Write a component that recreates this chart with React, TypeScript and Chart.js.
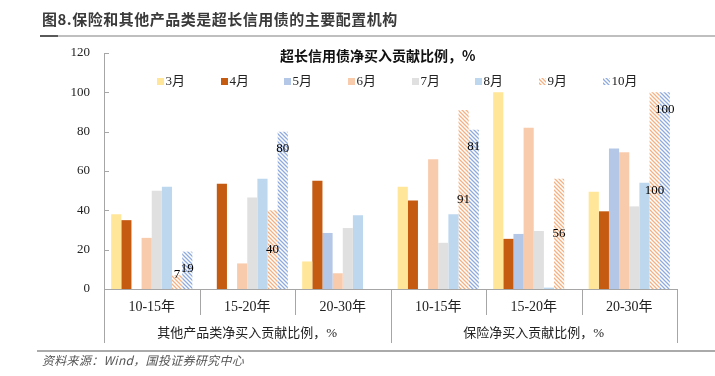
import React, { useEffect, useRef } from 'react';
import { Chart, registerables } from 'chart.js';

Chart.register(...registerables);

// ---- data ----
const categories = ['10-15年', '15-20年', '20-30年', '10-15年', '15-20年', '20-30年'];
const groupLabels = ['其他产品类净买入贡献比例，%', '保险净买入贡献比例，%'];
const groupSize = 3;
const months = ['3月', '4月', '5月', '6月', '7月', '8月', '9月', '10月'];
const m3 = [38, 0, 14, 52, 100, 49.5];
const m4 = [35, 53.5, 55, 45, 25.5, 39.5];
const m5 = [0, 0, 28.5, 0, 28, 71.5];
const m6 = [26, 13, 8, 66, 82, 69.5];
const m7 = [50, 46.5, 31, 23.5, 29.5, 42];
const m8 = [52, 56, 37.5, 38, 0.7, 54];
const m9 = [7, 40, 0, 91, 56, 100];
const m10 = [19, 80, 0, 81, 0, 100];
const seriesValues = [m3, m4, m5, m6, m7, m8, m9, m10];
const yMin = 0;
const yMax = 120;
const yStep = 20;

// ---- styles ----
const solidColors = ['#FFE699', '#C55A11', '#B4C7E7', '#F8CBAD', '#E0E0E0', '#BDD7EE'];
const hatchColors = ['#F4B183', '#8FAADC'];
const axisColor = '#A6A6A6';
const textColor = '#222222';
const numFont = "'Liberation Serif', 'Noto Sans CJK SC', serif";
const cjkFont = "'Liberation Serif', 'Noto Sans CJK SC', sans-serif";

function makeHatch(color: string): CanvasPattern | string {
  const c = document.createElement('canvas');
  c.width = 4;
  c.height = 4;
  const g = c.getContext('2d');
  if (!g) return color;
  g.fillStyle = '#ffffff';
  g.fillRect(0, 0, 4, 4);
  g.strokeStyle = color;
  g.lineWidth = 1.3;
  g.beginPath();
  g.moveTo(-1, -1);
  g.lineTo(5, 5);
  g.moveTo(3, -1);
  g.lineTo(5, 1);
  g.moveTo(-1, 3);
  g.lineTo(1, 5);
  g.stroke();
  return g.createPattern(c, 'repeat') || color;
}

const decorPlugin = {
  id: 'decor',
  afterDraw(chart: any) {
    const { ctx, chartArea, scales } = chart;
    const x = scales.x;
    const y = scales.y;
    ctx.save();
    ctx.strokeStyle = axisColor;
    ctx.lineWidth = 1;
    // inside tick marks on y axis
    ctx.beginPath();
    for (let v = yMin + yStep; v <= yMax; v += yStep) {
      const py = Math.round(y.getPixelForValue(v)) + 0.5;
      ctx.moveTo(chartArea.left, py);
      ctx.lineTo(chartArea.left + 5, py);
    }
    ctx.stroke();
    // category dividers
    const n = categories.length;
    const half = (x.getPixelForValue(1) - x.getPixelForValue(0)) / 2;
    ctx.beginPath();
    for (let i = 0; i <= n; i++) {
      const raw = i < n ? x.getPixelForValue(i) - half : x.getPixelForValue(n - 1) + half;
      const px = Math.round(raw) + 0.5;
      const long = i % groupSize === 0;
      ctx.moveTo(px, chartArea.bottom);
      ctx.lineTo(px, chartArea.bottom + (long ? 54 : 26));
    }
    ctx.stroke();
    // category labels
    ctx.fillStyle = textColor;
    ctx.textAlign = 'center';
    ctx.textBaseline = 'middle';
    ctx.font = `14px ${numFont}`;
    categories.forEach((c, i) => {
      ctx.fillText(c, x.getPixelForValue(i), chartArea.bottom + 18);
    });
    ctx.font = `13px ${cjkFont}`;
    groupLabels.forEach((g, gi) => {
      const a = x.getPixelForValue(gi * groupSize);
      const b = x.getPixelForValue(gi * groupSize + groupSize - 1);
      ctx.fillText(g, (a + b) / 2, chartArea.bottom + 44.5);
    });
    // legend
    const pitch = (chartArea.right - chartArea.left) / 9;
    const startX = chartArea.left + pitch * 0.83;
    const boxTop = 78;
    ctx.font = `13px ${numFont}`;
    ctx.textAlign = 'left';
    chart.data.datasets.forEach((ds: any, i: number) => {
      const bx = Math.round(startX + i * pitch);
      ctx.fillStyle = ds.backgroundColor;
      ctx.fillRect(bx, boxTop, 7, 7);
      ctx.fillStyle = textColor;
      ctx.fillText(ds.label, bx + 8.5, boxTop + 3.5);
    });
    ctx.restore();
  },
  afterDatasetsDraw(chart: any) {
    const { ctx } = chart;
    ctx.save();
    ctx.fillStyle = '#000';
    ctx.font = `13px ${numFont}`;
    ctx.textAlign = 'center';
    ctx.textBaseline = 'middle';
    [6, 7].forEach((di) => {
      const meta = chart.getDatasetMeta(di);
      const vals = chart.data.datasets[di].data;
      meta.data.forEach((el: any, i: number) => {
        const v = vals[i];
        if (!v) return;
        let ty;
        if (di === 6) ty = Math.min((el.y + el.base) / 2, el.base - 14);
        else ty = el.y + 17;
        ctx.fillText(String(v), el.x, ty);
      });
    });
    ctx.restore();
  },
};

export default function App() {
  const ref = useRef<HTMLCanvasElement | null>(null);
  useEffect(() => {
    if (!ref.current) return;
    const colors: any[] = [...solidColors, makeHatch(hatchColors[0]), makeHatch(hatchColors[1])];
    const chart = new Chart(ref.current, {
      type: 'bar',
      data: {
        labels: categories,
        datasets: months.map((m, i) => ({
          label: m,
          data: seriesValues[i],
          backgroundColor: colors[i],
          borderWidth: 0,
          barPercentage: 1,
          categoryPercentage: 0.85,
        })),
      },
      options: {
        responsive: false,
        animation: false,
        devicePixelRatio: 1,
        layout: { padding: { left: 54, top: 53, right: 38, bottom: 27 } },
        plugins: {
          legend: { display: false },
          title: { display: false },
          tooltip: { enabled: false },
        },
        scales: {
          x: {
            type: 'category',
            offset: true,
            grid: { display: false, drawTicks: false },
            ticks: { display: false },
            border: { display: true, color: axisColor, width: 1 },
            afterFit: (s: any) => {
              s.height = 60;
            },
          },
          y: {
            min: yMin,
            max: yMax,
            grid: { display: false, drawTicks: false },
            border: { display: true, color: axisColor, width: 1 },
            ticks: {
              stepSize: yStep,
              padding: 14,
              color: textColor,
              font: { family: numFont, size: 13 },
            },
            afterFit: (s: any) => {
              s.width = 50;
            },
          },
        },
      } as any,
      plugins: [decorPlugin],
    });
    return () => chart.destroy();
  }, []);

  return (
    <div
      style={{
        position: 'fixed',
        left: 0,
        top: 0,
        width: 715,
        height: 376,
        background: '#ffffff',
        overflow: 'hidden',
      }}
    >
      <canvas ref={ref} width={715} height={376} style={{ position: 'absolute', left: 0, top: 0, display: 'block' }} />
      <div
        style={{
          position: 'absolute',
          left: 42,
          top: 10,
          fontFamily: "'Noto Sans CJK SC', sans-serif",
          fontSize: 15,
          lineHeight: '18px',
          letterSpacing: '0.5px',
          fontWeight: 'bold',
          color: '#3a3a3a',
          whiteSpace: 'nowrap',
        }}
      >
        图8.保险和其他产品类是超长信用债的主要配置机构
      </div>
      <div style={{ position: 'absolute', left: 40, right: 0, top: 35, height: 2, background: '#BFBFBF' }} />
      <div style={{ position: 'absolute', left: 40, width: 18, top: 35, height: 2, background: '#595959' }} />
      <div
        style={{
          position: 'absolute',
          left: 280,
          top: 47,
          fontFamily: "'Noto Sans CJK SC', sans-serif",
          fontSize: 14,
          lineHeight: '16px',
          fontWeight: 'bold',
          color: '#111',
          whiteSpace: 'nowrap',
        }}
      >
        超长信用债净买入贡献比例，%
      </div>
      <div style={{ position: 'absolute', left: 37, right: 0, top: 350, height: 2, background: '#AAAAAA' }} />
      <div
        style={{
          position: 'absolute',
          left: 42,
          top: 353,
          fontFamily: "'Noto Sans CJK SC', sans-serif",
          fontSize: 12,
          lineHeight: '14px',
          letterSpacing: '0.3px',
          fontStyle: 'italic',
          color: '#555',
          whiteSpace: 'nowrap',
        }}
      >
        资料来源：Wind，国投证券研究中心
      </div>
    </div>
  );
}
